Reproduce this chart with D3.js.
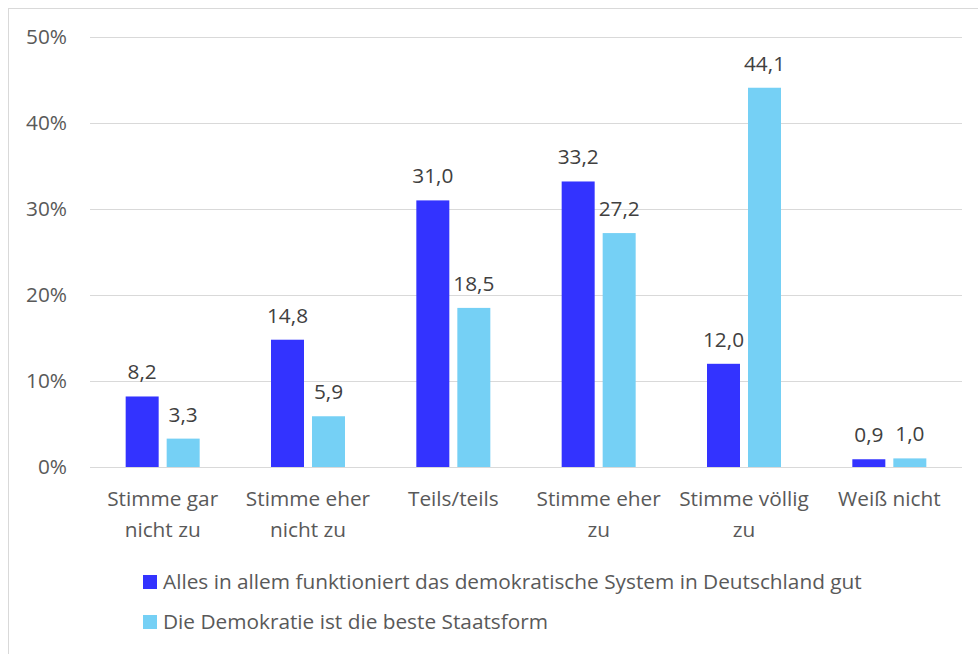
<!DOCTYPE html>
<html>
<head>
<meta charset="utf-8">
<script src="https://cdn.jsdelivr.net/npm/d3@7"></script>
<style>
  body { margin: 0; background: #fff; }
  text { font-family: "Open Sans", sans-serif; }
</style>
</head>
<body>
<div id="chart"></div>
<script>
const categories = [
  ["Stimme gar", "nicht zu"],
  ["Stimme eher", "nicht zu"],
  ["Teils/teils"],
  ["Stimme eher", "zu"],
  ["Stimme völlig", "zu"],
  ["Weiß nicht"]
];
const seriesNames = [
  "Alles in allem funktioniert das demokratische System in Deutschland gut",
  "Die Demokratie ist die beste Staatsform"
];
const funktioniert = [8.2, 14.8, 31.0, 33.2, 12.0, 0.9];
const besteForm = [3.3, 5.9, 18.5, 27.2, 44.1, 1.0];
const yTicks = [0, 10, 20, 30, 40, 50];
const colors = ["#3333FF", "#75D0F5"];

const width = 978, height = 654;
const margin = {left: 90, right: 16, top: 37, bottom: 187};
const fs = 20.8;

const svg = d3.select("#chart").append("svg")
    .attr("width", width)
    .attr("height", height);

// chart border (right and bottom edges fall outside the frame)
svg.append("rect")
    .attr("x", 8.5).attr("y", 8.5)
    .attr("width", width + 10).attr("height", height + 10)
    .attr("fill", "none")
    .attr("stroke", "#D9D9D9");

const x = d3.scaleBand()
    .domain(d3.range(categories.length))
    .range([margin.left, width - margin.right]);

const y = d3.scaleLinear()
    .domain([0, 50])
    .range([height - margin.bottom, margin.top]);

// gridlines
svg.append("g")
    .selectAll("line")
    .data(yTicks)
    .join("line")
    .attr("x1", margin.left)
    .attr("x2", width - margin.right)
    .attr("y1", d => Math.round(y(d)) + 0.5)
    .attr("y2", d => Math.round(y(d)) + 0.5)
    .attr("stroke", "#D9D9D9")
    .attr("stroke-width", 1);

// y tick labels
svg.append("g")
    .selectAll("text")
    .data(yTicks)
    .join("text")
    .attr("x", 67)
    .attr("y", d => y(d))
    .attr("dy", "0.35em")
    .attr("text-anchor", "end")
    .attr("font-size", fs)
    .attr("fill", "#595959")
    .text(d => d + "%");

const barW = 33, gap = 8;
const series = [funktioniert, besteForm];
const fmt = v => v.toFixed(1).replace(".", ",");

series.forEach((vals, s) => {
  const g = svg.append("g");
  const bx = i => x(i) + x.bandwidth() / 2 + (s === 0 ? -gap / 2 - barW : gap / 2);
  g.selectAll("rect")
    .data(vals)
    .join("rect")
    .attr("x", (d, i) => bx(i))
    .attr("y", d => y(d))
    .attr("width", barW)
    .attr("height", d => y(0) - y(d))
    .attr("fill", colors[s]);
  g.selectAll("text")
    .data(vals)
    .join("text")
    .attr("x", (d, i) => bx(i) + barW / 2)
    .attr("y", d => y(d) - 17)
    .attr("text-anchor", "middle")
    .attr("font-size", fs)
    .attr("fill", "#404040")
    .text(fmt);
});

// x labels
svg.append("g")
    .selectAll("text")
    .data(categories)
    .join("text")
    .attr("x", (d, i) => x(i) + x.bandwidth() / 2)
    .attr("y", 506)
    .attr("text-anchor", "middle")
    .attr("font-size", fs)
    .attr("fill", "#595959")
    .selectAll("tspan")
    .data(d => d)
    .join("tspan")
    .attr("x", function() { return this.parentNode.getAttribute("x"); })
    .attr("dy", (d, j) => j === 0 ? 0 : 31)
    .text(d => d);

// legend
const legend = svg.append("g")
    .selectAll("g")
    .data(seriesNames)
    .join("g")
    .attr("transform", (d, i) => `translate(143, ${575 + i * 40})`);
legend.append("rect")
    .attr("width", 14).attr("height", 14)
    .attr("fill", (d, i) => colors[i]);
legend.append("text")
    .attr("x", 20).attr("y", 7)
    .attr("dy", "0.35em")
    .attr("font-size", fs)
    .attr("fill", "#595959")
    .text(d => d);
</script>
</body>
</html>
